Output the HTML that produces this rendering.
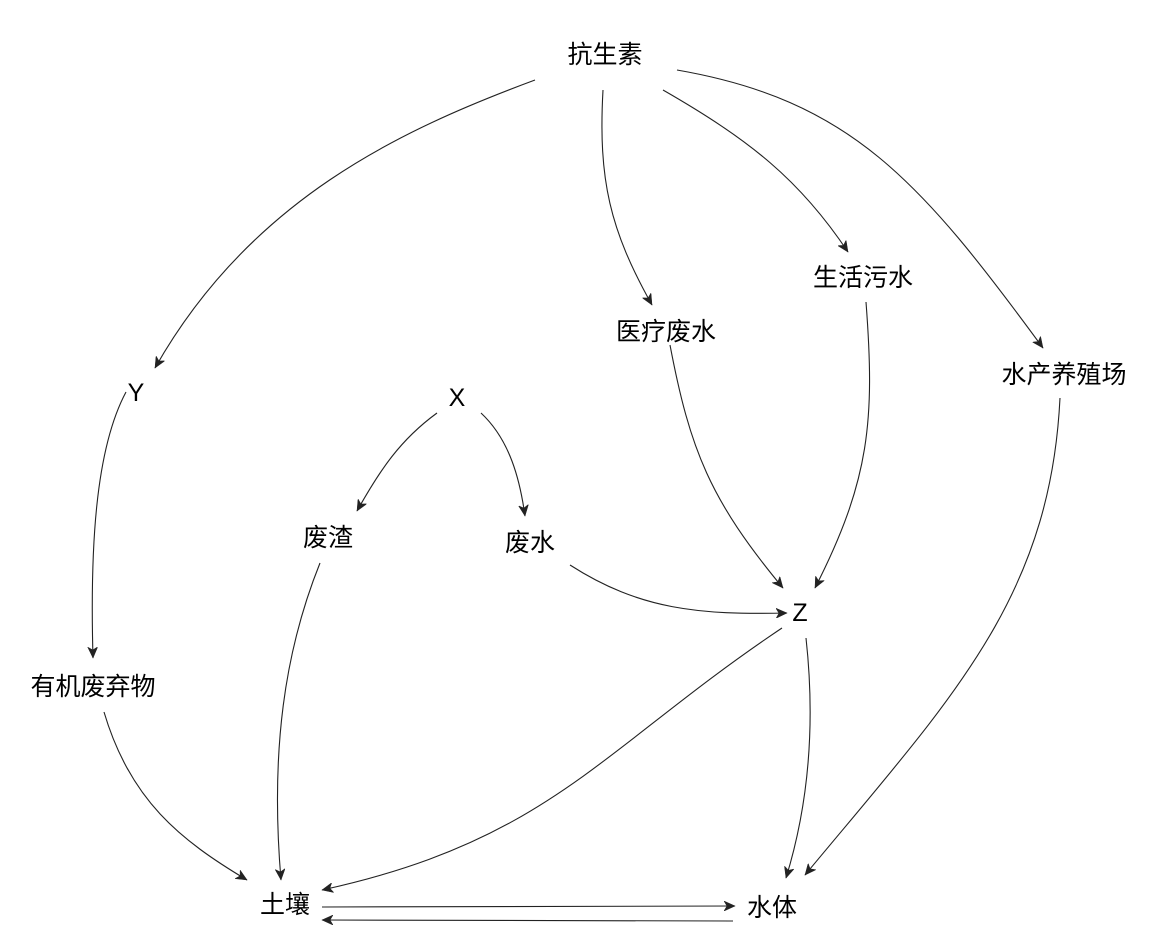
<!DOCTYPE html>
<html><head><meta charset="utf-8"><style>
html,body{margin:0;padding:0;background:#fff;}
svg{display:block;}
text{font-family:"Liberation Sans","Noto Sans CJK SC",sans-serif;font-size:25px;fill:#000;text-anchor:middle;dominant-baseline:central;}
path{fill:none;stroke:#222;stroke-width:1.1;}
</style></head><body>
<svg width="1160" height="948" viewBox="0 0 1160 948">
<defs><marker id="a" markerWidth="12" markerHeight="10" refX="11" refY="5" orient="auto" markerUnits="userSpaceOnUse">
<path d="M0,0 L11,5 L0,10 L3,5 Z" style="fill:#222;stroke:#222;stroke-width:0.5"/></marker></defs>
<g marker-end="url(#a)">
<path d="M535,80 C400,130 250,200 155,368"/>
<path d="M603,90 C598,180 610,230 652,305"/>
<path d="M663,90 C750,140 800,180 848,252"/>
<path d="M677,70 C850,100 920,180 1043,348"/>
<path d="M866,302 C875,420 870,480 815,588"/>
<path d="M670,345 C690,450 710,500 783,588"/>
<path d="M1060,398 C1050,600 950,700 805,875"/>
<path d="M126,392 C95,450 90,550 93,658"/>
<path d="M437,413 C400,440 380,470 357,511"/>
<path d="M481,413 C510,440 520,480 525,516"/>
<path d="M570,565 C640,610 700,615 787,613"/>
<path d="M320,563 C285,650 270,750 281,880"/>
<path d="M104,712 C130,800 180,840 247,880"/>
<path d="M782,628 C600,750 550,840 322,890"/>
<path d="M806,638 C815,720 810,800 786,878"/>
<path d="M322,907 L735,906"/>
<path d="M733,921 L322,920"/>
</g>
<text x="605" y="55">抗生素</text>
<text x="863" y="278">生活污水</text>
<text x="666" y="332">医疗废水</text>
<text x="1064" y="375">水产养殖场</text>
<text x="136" y="393">Y</text>
<text x="457" y="398">X</text>
<text x="328" y="538">废渣</text>
<text x="530" y="543">废水</text>
<text x="800" y="613">Z</text>
<text x="93" y="687">有机废弃物</text>
<text x="285" y="905">土壤</text>
<text x="772" y="908">水体</text>
</svg>
</body></html>
